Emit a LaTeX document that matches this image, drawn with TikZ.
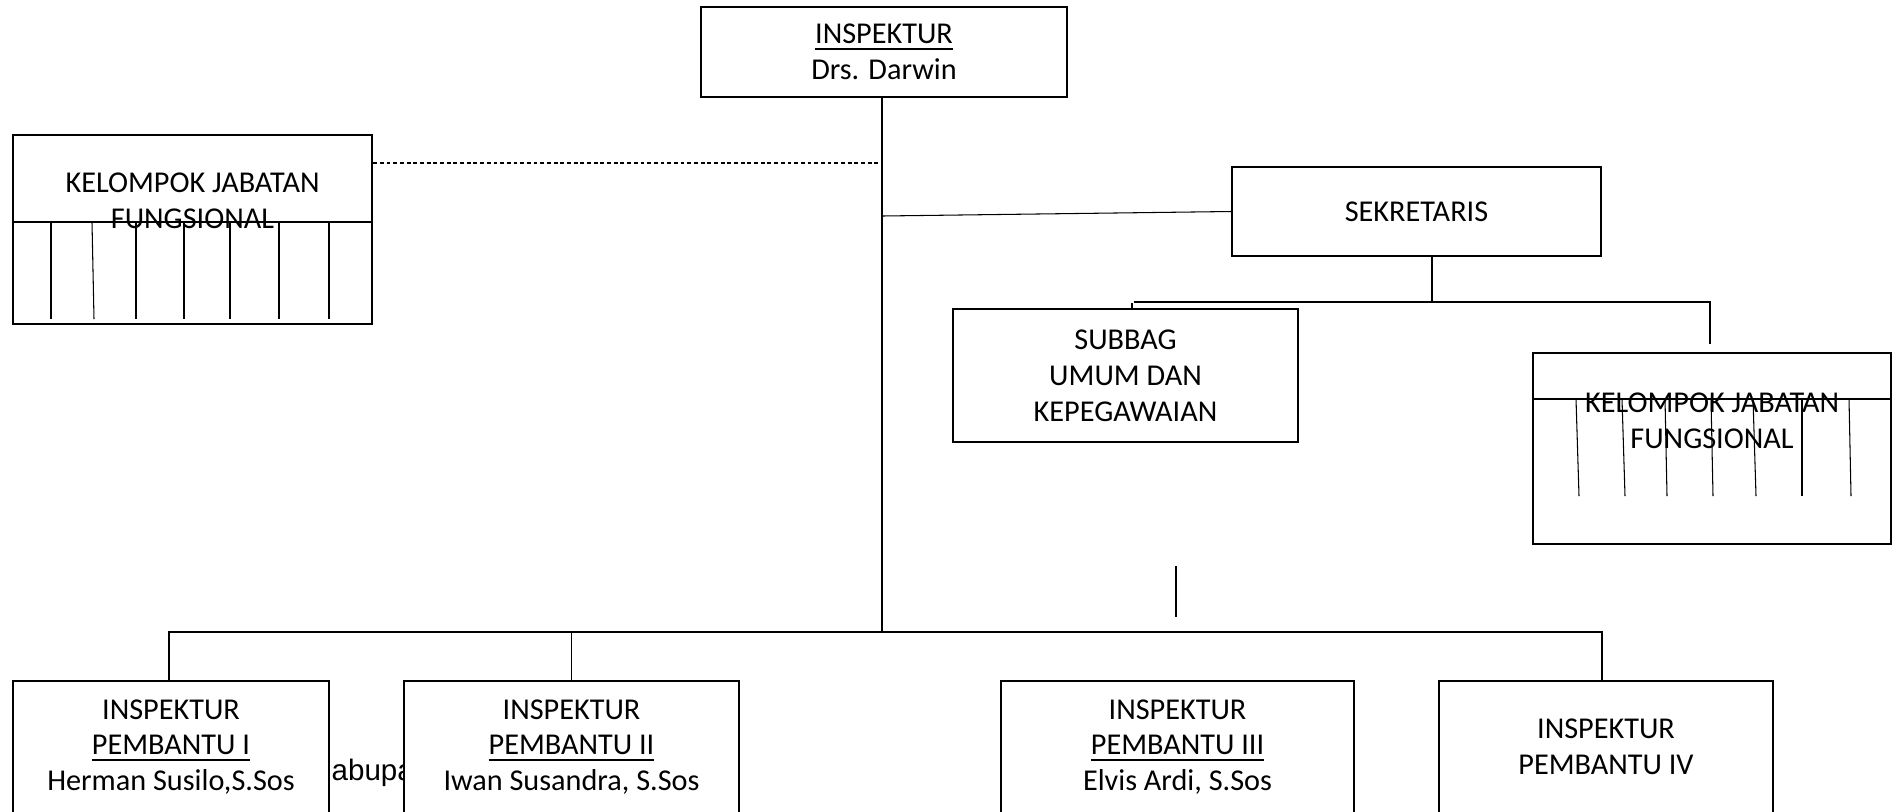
\documentclass[tikz,border=0pt]{standalone}
\usepackage{fontspec}
\setmainfont{Carlito}
\newfontfamily\arialfont{Liberation Sans}
\usepackage{tikz}
\usetikzlibrary{positioning, calc}

\tikzset{
    kotak/.style={draw, line width=0.65pt, fill=white, align=center, inner sep=0pt},
    teks/.style={align=center, inner sep=0pt},
    garis/.style={line width=0.3pt}
}

\begin{document}
\begin{tikzpicture}[
        x=0.01cm, y=-0.01cm,
        font=\fontsize{8.6}{10.2}\selectfont
    ]
        \clip (0,0) rectangle (1903,811);

        \node[teks, anchor=base west, font=\arialfont\fontsize{8.4}{10.2}\selectfont] (kab) at (331,780) {abupa};

        % kotak utama
        \node[kotak, minimum width=3.66cm, minimum height=0.90cm] (inspektur) at (884,52) {\underline{INSPEKTUR}\\Drs. Darwin};
        \node[kotak, minimum width=3.69cm, minimum height=0.89cm] (sekretaris) at (1416.5,211.5) {SEKRETARIS};
        \node[kotak, minimum width=3.45cm, minimum height=1.33cm] (subbag) at (1125.5,375.5) {SUBBAG\\UMUM DAN\\KEPEGAWAIAN};

        % kelompok jabatan fungsional
        \node[kotak, minimum width=3.59cm, minimum height=1.89cm] (kjfkiri) at (192.5,229.5) {};
        \node[kotak, minimum width=3.58cm, minimum height=1.91cm] (kjfkanan) at (1712,448.5) {};
        \draw[garis] (kjfkiri.west |- 0,222) -- (kjfkiri.east |- 0,222);
        \foreach \a/\b in {51/51, 92/94, 136/136, 184/184, 230/230, 279/279, 329/329}
            \draw[garis] (\a,222) -- (\b,319);
        \draw[garis] (kjfkanan.west |- 0,399) -- (kjfkanan.east |- 0,399);
        \foreach \a/\b in {1576/1579, 1622/1625, 1665/1667, 1711/1713, 1753/1756, 1802/1802, 1849/1851}
            \draw[garis] (\a,399) -- (\b,496);
        \node[teks] (teksfkiri) at (192.5,201) {KELOMPOK JABATAN\\FUNGSIONAL};
        \node[teks] (teksfkanan) at (1712,420.5) {KELOMPOK JABATAN\\FUNGSIONAL};

        % inspektur pembantu
        \node[kotak, minimum width=3.16cm, minimum height=1.32cm] (ip1) at (171,747) {INSPEKTUR\\\underline{PEMBANTU I}\\Herman Susilo,S.Sos};
        \node[kotak, minimum width=3.35cm, minimum height=1.32cm] (ip2) at (571.5,747) {INSPEKTUR\\\underline{PEMBANTU II}\\Iwan Susandra, S.Sos};
        \node[kotak, minimum width=3.53cm, minimum height=1.32cm] (ip3) at (1177.5,747) {INSPEKTUR\\\underline{PEMBANTU III}\\Elvis Ardi, S.Sos};
        \node[kotak, minimum width=3.34cm, minimum height=1.32cm] (ip4) at (1606,747) {INSPEKTUR\\PEMBANTU IV};

        % garis penghubung
        \coordinate (bus) at (882,632);
        \coordinate (putus) at (882,163);
        \coordinate (cabang) at (882,216);
        \coordinate (sek) at (1432,302);
        \coordinate (kiri) at (1134,302);
        \coordinate (kanan) at (1710,344);
        \draw[garis] (inspektur.south -| bus) -- (bus);
        \draw[garis, dash pattern=on 1.1pt off 0.8pt] (kjfkiri.east |- putus) -- (putus);
        \draw[garis] (cabang) -- (sekretaris.west);
        \draw[garis] (sekretaris.south -| sek) -- (sek);
        \draw[garis] (kiri) -- (kiri -| kanan) -- (kanan);
        \draw[garis] (1132,303) -- (subbag.north -| 1132,0);
        \draw[garis] (ip1.north -| 169,0) |- (bus) -| (ip4.north -| 1602,0);
        \draw[garis] (ip2.north) -- (ip2.north |- bus);
        \draw[garis] (1176,566) -- (1176,617);
    \end{tikzpicture}
\end{document}
